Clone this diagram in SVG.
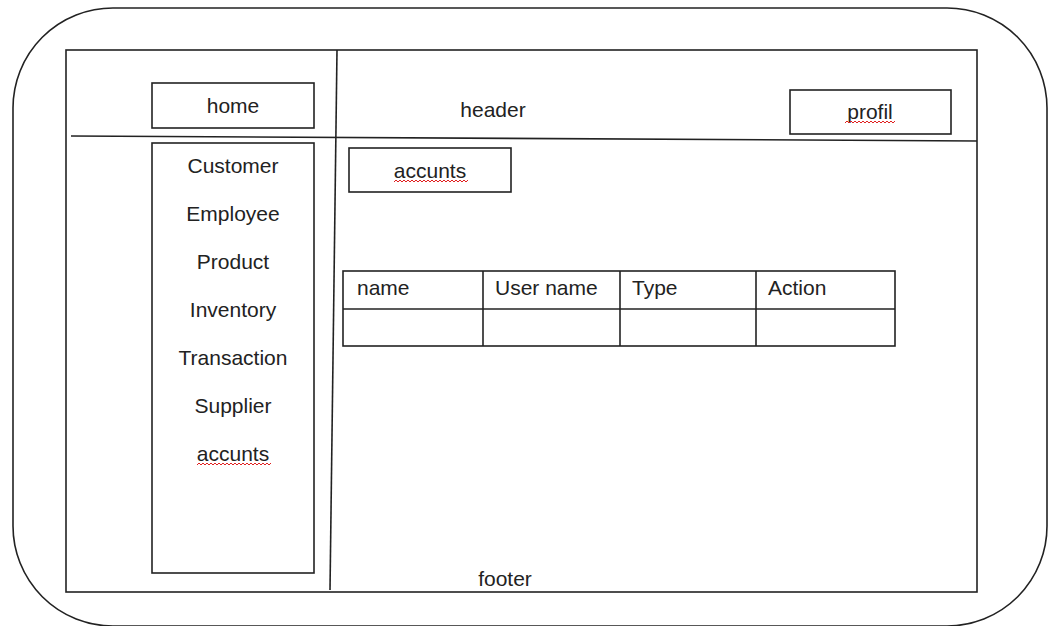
<svg xmlns="http://www.w3.org/2000/svg" width="1057" height="626" viewBox="0 0 1057 626">
<style>
.ln{fill:none;stroke:#222;stroke-width:1.6}
.bx{fill:#fff;stroke:#222;stroke-width:1.6}
.t{font-family:"Liberation Sans",Arial,sans-serif;font-size:21px;fill:#222}
.m{text-anchor:middle}
.sq{fill:none;stroke:#e02020;stroke-width:1}
</style>
<rect width="1057" height="626" fill="#fff"/>
<g id="frame">
<rect x="13" y="8" width="1034" height="618" rx="100" ry="100" class="ln"/>
<rect x="66" y="50" width="911" height="542" class="ln"/>
</g>
<g id="connectors">
<line x1="71" y1="136" x2="977" y2="141" class="ln"/>
<line x1="337" y1="50" x2="330" y2="590" class="ln"/>
</g>
<g id="home">
<rect x="152" y="83" width="162" height="45" class="bx"/>
<text x="233" y="113" class="t m">home</text>
</g>
<g id="header">
<text x="493" y="117" class="t m">header</text>
</g>
<g id="profil">
<rect x="790" y="90" width="161" height="44" class="bx"/>
<text x="870" y="119" class="t m">profil</text>
<path d="M845 123 l2 -2 l2 2 l2 -2 l2 2 l2 -2 l2 2 l2 -2 l2 2 l2 -2 l2 2 l2 -2 l2 2 l2 -2 l2 2 l2 -2 l2 2 l2 -2 l2 2 l2 -2 l2 2 l2 -2 l2 2 l2 -2 l2 2 l2 -2" class="sq"/>
</g>
<g id="nav">
<rect x="152" y="143" width="162" height="430" class="bx"/>
<text x="233" y="173" class="t m">Customer</text>
<text x="233" y="221" class="t m">Employee</text>
<text x="233" y="269" class="t m">Product</text>
<text x="233" y="317" class="t m">Inventory</text>
<text x="233" y="365" class="t m">Transaction</text>
<text x="233" y="413" class="t m">Supplier</text>
<text x="233" y="461" class="t m">accunts</text>
<path d="M197 465 l2 -2 l2 2 l2 -2 l2 2 l2 -2 l2 2 l2 -2 l2 2 l2 -2 l2 2 l2 -2 l2 2 l2 -2 l2 2 l2 -2 l2 2 l2 -2 l2 2 l2 -2 l2 2 l2 -2 l2 2 l2 -2 l2 2 l2 -2 l2 2 l2 -2 l2 2 l2 -2 l2 2 l2 -2 l2 2 l2 -2 l2 2 l2 -2 l2 2 l2 -2" class="sq"/>
</g>
<g id="accunts">
<rect x="349" y="148" width="162" height="44" class="bx"/>
<text x="430" y="178" class="t m">accunts</text>
<path d="M394 182 l2 -2 l2 2 l2 -2 l2 2 l2 -2 l2 2 l2 -2 l2 2 l2 -2 l2 2 l2 -2 l2 2 l2 -2 l2 2 l2 -2 l2 2 l2 -2 l2 2 l2 -2 l2 2 l2 -2 l2 2 l2 -2 l2 2 l2 -2 l2 2 l2 -2 l2 2 l2 -2 l2 2 l2 -2 l2 2 l2 -2 l2 2 l2 -2 l2 2 l2 -2" class="sq"/>
</g>
<g id="table">
<rect x="343" y="271" width="552" height="75" class="bx"/>
<line x1="343" y1="309" x2="895" y2="309" class="ln"/>
<line x1="483" y1="271" x2="483" y2="346" class="ln"/>
<line x1="620" y1="271" x2="620" y2="346" class="ln"/>
<line x1="756" y1="271" x2="756" y2="346" class="ln"/>
<text x="357" y="295" class="t">name</text>
<text x="495" y="295" class="t">User name</text>
<text x="632" y="295" class="t">Type</text>
<text x="768" y="295" class="t">Action</text>
</g>
<g id="footer">
<text x="505" y="586" class="t m">footer</text>
</g>
</svg>
